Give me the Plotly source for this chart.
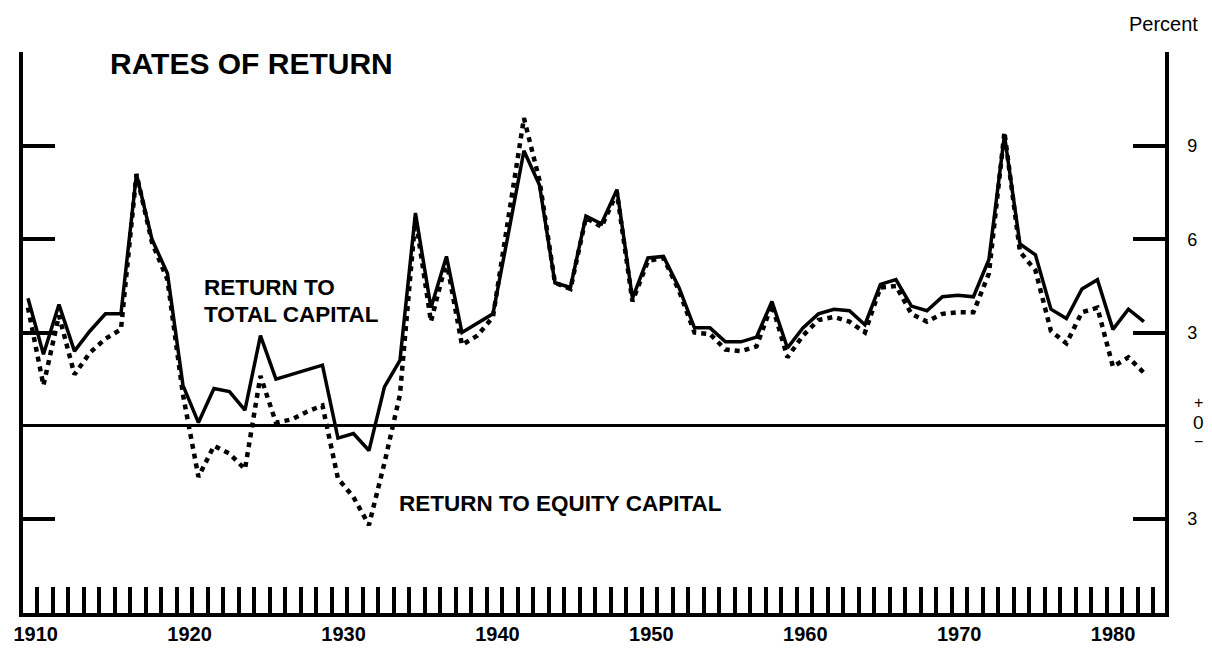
import plotly.graph_objects as go

years = list(range(1910, 1983))

total_capital = [
    4.1, 2.3, 3.9, 2.4, 3.05, 3.6, 3.6, 8.1, 6.0, 4.9,
    1.3, 0.1, 1.2, 1.1, 0.5, 2.9, 1.5, 1.65, 1.8, 1.95,
    -0.4, -0.25, -0.8, 1.25, 2.1, 6.85, 3.8, 5.45, 3.0, 3.3,
    3.6, 6.2, 8.85, 7.75, 4.6, 4.45, 6.75, 6.5, 7.6, 4.1,
    5.4, 5.45, 4.45, 3.15, 3.15, 2.7, 2.7, 2.85, 4.0, 2.5,
    3.15, 3.6, 3.75, 3.7, 3.25, 4.55, 4.7, 3.85, 3.7, 4.15,
    4.2, 4.15, 5.35, 9.35, 5.85, 5.5, 3.75, 3.45, 4.4, 4.7,
    3.1, 3.75, 3.35,
]

equity_capital = [
    3.8, 1.3, 3.55, 1.65, 2.35, 2.8, 3.1, 8.1, 5.9, 4.7,
    1.0, -1.65, -0.65, -0.9, -1.4, 1.6, 0.1, 0.2, 0.45, 0.65,
    -1.7, -2.3, -3.2, -1.2, 1.0, 6.7, 3.35, 5.3, 2.6, 2.9,
    3.5, 6.6, 9.9, 7.9, 4.6, 4.4, 6.7, 6.4, 7.5, 4.0,
    5.3, 5.4, 4.35, 3.0, 2.95, 2.45, 2.4, 2.55, 3.9, 2.2,
    2.9, 3.4, 3.5, 3.35, 3.0, 4.45, 4.5, 3.6, 3.35, 3.6,
    3.65, 3.65, 4.9, 9.45, 5.6, 5.0, 3.05, 2.65, 3.65, 3.8,
    1.9, 2.2, 1.7,
]

decade_labels = ["1910", "1920", "1930", "1940", "1950", "1960", "1970", "1980"]
y_tick_values = [12, 9, 6, 3, -3]
y_tick_text = ["", "9", "6", "3", "3"]

# ---- layout geometry (page has an 8px body margin, so figure is 1204x640) ----
OFF = 8
W, H = 1212 - OFF, 648 - OFF
L, R, T, B = 23 - OFF, 1165 - OFF, 52 - OFF, 613 - OFF
X0, X1 = 1909.68, 1983.36
Y0, Y1 = -6.03, 12.03


def px_x(px):
    # px given in reference-image pixels
    return (px - OFF - L) / (R - L)


def px_y(py):
    return (B - (py - OFF)) / (B - T)


def label_pos(lbl):
    # printed decade labels sit slightly right of the year position, less so to the right
    yr = int(lbl)
    return yr + 0.5 - 0.007 * (yr - 1910)


FONT = "Liberation Sans, Arial, Helvetica, sans-serif"

fig = go.Figure()
fig.add_trace(go.Scatter(
    x=years, y=equity_capital, mode="lines",
    line=dict(color="black", width=4.5, dash="5px,5px"),
    name="Return to equity capital", showlegend=False,
))
fig.add_trace(go.Scatter(
    x=years, y=total_capital, mode="lines",
    line=dict(color="black", width=3.5),
    name="Return to total capital", showlegend=False,
))

fig.update_layout(
    width=W, height=H,
    margin=dict(l=L, r=W - R, t=T, b=H - B, autoexpand=False),
    paper_bgcolor="white", plot_bgcolor="white",
    showlegend=False,
    xaxis=dict(
        range=[X0, X1], showgrid=False, zeroline=False,
        showline=True, linewidth=3.5, linecolor="black", mirror=False,
        tickmode="array",
        tickvals=[label_pos(s) for s in decade_labels],
        ticktext=decade_labels, ticks="",
        tickfont=dict(family=FONT, size=20, color="black", weight="bold"),
        ticklabelstandoff=0,
        minor=dict(tickmode="linear", tick0=1910.6, dtick=1, ticks="inside",
                   ticklen=26, tickwidth=3.5, tickcolor="black", showgrid=False),
    ),
    yaxis=dict(
        range=[Y0, Y1], showgrid=False,
        zeroline=True, zerolinewidth=3, zerolinecolor="black",
        showline=True, linewidth=3.5, linecolor="black", mirror="ticks",
        side="right",
        tickmode="array", tickvals=y_tick_values, ticktext=y_tick_text,
        ticks="inside", ticklen=32, tickwidth=3.5, tickcolor="black",
        tickfont=dict(family=FONT, size=18, color="black"),
        ticklabelstandoff=15,
    ),
)

ann_font_big = dict(family=FONT, size=30, color="black", weight="bold")
ann_font = dict(family=FONT, size=22.5, color="black", weight="bold")
sign_font = dict(family=FONT, size=16, color="black")


def label(px, py, text, font, xanchor="left"):
    fig.add_annotation(x=px_x(px), y=px_y(py), xref="paper", yref="paper",
                       text=text, showarrow=False, xanchor=xanchor,
                       yanchor="middle", font=font)


label(108, 64, "RATES OF RETURN", ann_font_big)
label(202, 287, "RETURN TO", ann_font)
label(202, 314, "TOTAL CAPITAL", ann_font)
label(397, 503, "RETURN TO EQUITY CAPITAL", ann_font)
label(1163, 24, "Percent", dict(family=FONT, size=20, color="black"), "center")
label(1198, 402, "+", sign_font, "center")
label(1198, 422, "0", dict(family=FONT, size=19, color="black"), "center")
label(1198, 441, "\u2212", sign_font, "center")

fig.write_html("out.html")
